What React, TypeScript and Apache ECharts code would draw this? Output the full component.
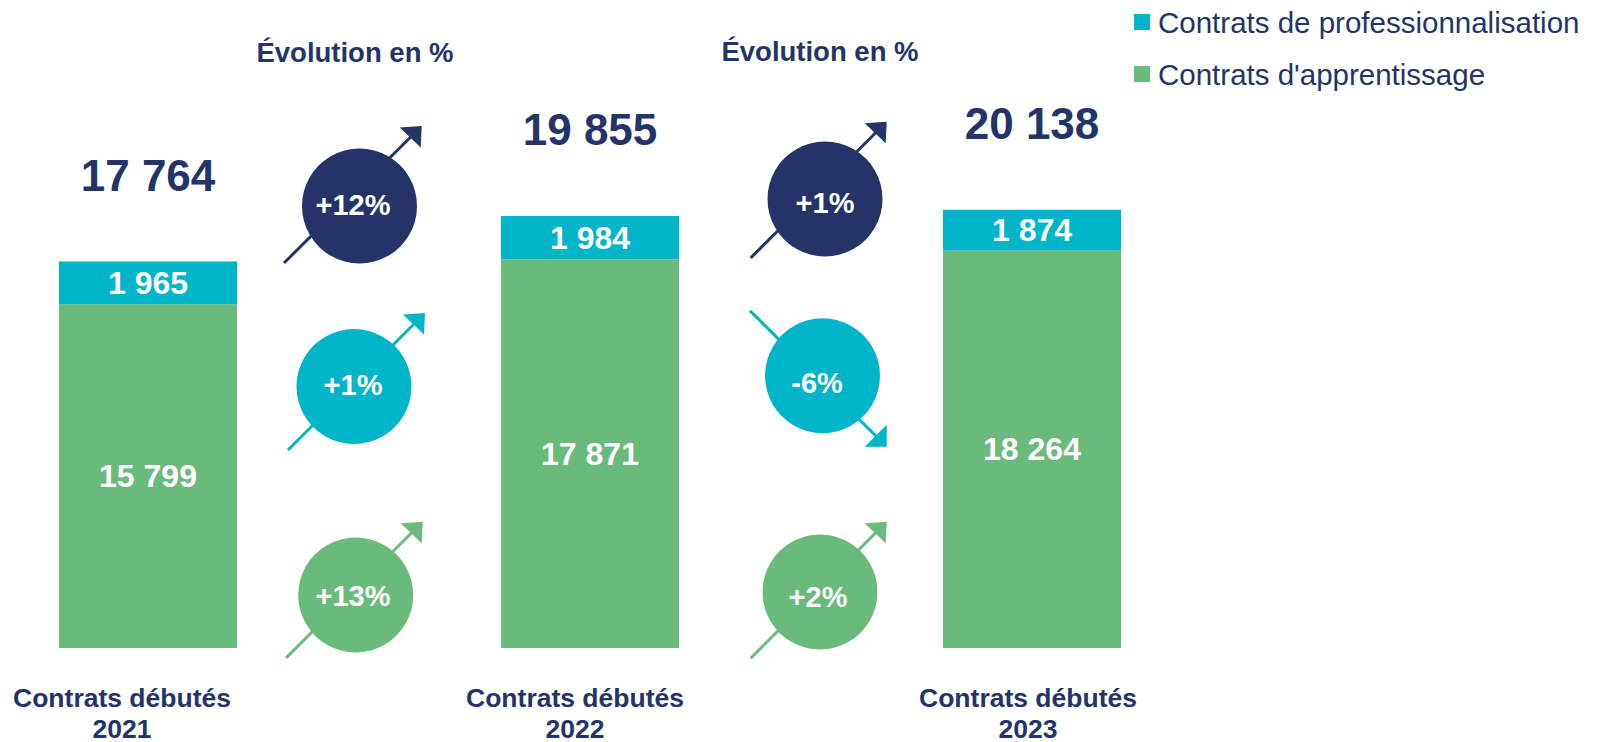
import React, { useEffect, useRef } from "react";
import * as echarts from "echarts";

const years = ["2021", "2022", "2023"];
const apprentissage = [15799, 17871, 18264];
const professionnalisation = [1965, 1984, 1874];
const totals = [17764, 19855, 20138];
const evoTotal = ["+12%", "+1%"];
const evoPro = ["+1%", "-6%"];
const evoAppr = ["+13%", "+2%"];

const NAVY = "#243469";
const CYAN = "#00B5C9";
const GREEN = "#6ABB7B";
const FONT = "'Liberation Sans', Arial, sans-serif";

const fmt = (v: number) => String(v).replace(/\B(?=(\d{3})+(?!\d))/g, " ");

// padded category slots: bars at 0, 2, 4
const slots: string[] = [];
years.forEach((y, i) => {
  slots.push(y);
  if (i < years.length - 1) slots.push("");
});
const pad = (arr: number[]) => {
  const out: (number | null)[] = [];
  arr.forEach((v, i) => {
    out.push(v);
    if (i < arr.length - 1) out.push(null);
  });
  return out;
};

// decoration layout (pixel positions of evolution badges)
const badgeLayout = [
  { color: NAVY, tail: [284, 263], tip: [421.7, 126], c: [359.5, 206], t: [353, 205], down: false },
  { color: CYAN, tail: [288, 450], tip: [425, 313], c: [354, 386.5], t: [353, 385], down: false },
  { color: GREEN, tail: [286, 658], tip: [422.7, 521.7], c: [355.7, 595], t: [353, 596], down: false },
  { color: NAVY, tail: [750.7, 258], tip: [886.7, 121.7], c: [825, 199], t: [825, 203], down: false },
  { color: CYAN, tail: [750, 310.7], tip: [886.7, 446.7], c: [822.5, 375.7], t: [817, 383], down: true },
  { color: GREEN, tail: [750.7, 658.3], tip: [886.7, 521.7], c: [820, 592], t: [818, 597], down: false },
];
const badgeTexts = [evoTotal[0], evoPro[0], evoAppr[0], evoTotal[1], evoPro[1], evoAppr[1]];

function buildBadges() {
  return badgeLayout.map((b, i) => {
    const [tx, ty] = b.tip;
    const head = b.down
      ? [[tx, ty], [tx - 22, ty], [tx, ty - 22]]
      : [[tx, ty], [tx - 22, ty + 1.5], [tx - 1, ty + 21.5]];
    const lineEnd = b.down ? [tx - 10, ty - 10] : [tx - 10, ty + 10];
    return {
      type: "group",
      children: [
        {
          type: "line",
          shape: { x1: b.tail[0], y1: b.tail[1], x2: lineEnd[0], y2: lineEnd[1] },
          style: { stroke: b.color, lineWidth: 3 },
        },
        { type: "polygon", shape: { points: head }, style: { fill: b.color } },
        { type: "circle", shape: { cx: b.c[0], cy: b.c[1], r: 57.5 }, style: { fill: b.color } },
        {
          type: "text",
          x: b.t[0],
          y: b.t[1],
          style: {
            text: badgeTexts[i],
            fill: "#ffffff",
            fontSize: 29,
            fontWeight: "bold",
            fontFamily: FONT,
            align: "center",
            verticalAlign: "middle",
          },
        },
      ],
    };
  });
}

const labelPad = [52, 0, 30, 0, 8];

export default function App() {
  const ref = useRef<HTMLDivElement>(null);
  useEffect(() => {
    if (!ref.current) return;
    const chart = echarts.init(ref.current, undefined, { renderer: "svg" });
    const rich: any = {};
    labelPad.forEach((p, i) => {
      rich["c" + i] = {
        fontSize: 26.5,
        fontWeight: "bold",
        color: NAVY,
        fontFamily: FONT,
        lineHeight: 31,
        padding: [0, p, 0, 0],
      };
    });
    const PRO = "Contrats de professionnalisation";
    const APP = "Contrats d'apprentissage";
    chart.setOption({
      animation: false,
      textStyle: { fontFamily: FONT },
      grid: { left: 37.5, right: 456.5, top: 104, bottom: 92 },
      legend: {
        data: [PRO, APP],
        orient: "vertical",
        left: 1134,
        top: 7,
        padding: 0,
        icon: "rect",
        itemWidth: 16,
        itemHeight: 16,
        itemGap: 22,
        textStyle: {
          fontSize: 29.5,
          color: NAVY,
          fontFamily: FONT,
          lineHeight: 30,
          padding: [0, 0, 0, 3],
        },
      },
      xAxis: {
        type: "category",
        data: slots,
        axisLine: { show: false },
        axisTick: { show: false },
        axisLabel: {
          interval: 0,
          margin: 34,
          formatter: (v: string, i: number) =>
            v ? `{c${i}|Contrats débutés}\n{c${i}|${v}}` : "",
          rich,
        },
      },
      yAxis: { type: "value", min: 0, max: 25000, show: false, splitLine: { show: false } },
      series: [
        {
          name: APP,
          type: "bar",
          stack: "a",
          barWidth: 178,
          data: pad(apprentissage),
          itemStyle: { color: GREEN },
          label: {
            show: true,
            position: "inside",
            color: "#fff",
            fontSize: 32,
            fontWeight: "bold",
            fontFamily: FONT,
            formatter: (p: any) => fmt(p.value),
          },
        },
        {
          name: PRO,
          type: "bar",
          stack: "a",
          barWidth: 178,
          data: pad(professionnalisation),
          itemStyle: { color: CYAN },
          label: {
            show: true,
            position: "inside",
            color: "#fff",
            fontSize: 32,
            fontWeight: "bold",
            fontFamily: FONT,
            formatter: (p: any) => fmt(p.value),
          },
        },
        {
          name: "Total",
          type: "bar",
          stack: "a",
          barWidth: 178,
          data: pad(totals.map(() => 0)),
          itemStyle: { color: "transparent" },
          label: {
            show: true,
            position: "top",
            distance: 64,
            color: NAVY,
            fontSize: 44,
            fontWeight: "bold",
            fontFamily: FONT,
            formatter: (p: any) => fmt(totals[p.dataIndex / 2]),
          },
        },
      ],
      graphic: [
        {
          type: "text",
          x: 355,
          y: 52,
          style: {
            text: "Évolution en %",
            fill: NAVY,
            fontSize: 27.5,
            fontWeight: "bold",
            fontFamily: FONT,
            align: "center",
            verticalAlign: "middle",
          },
        },
        {
          type: "text",
          x: 820,
          y: 51,
          style: {
            text: "Évolution en %",
            fill: NAVY,
            fontSize: 27.5,
            fontWeight: "bold",
            fontFamily: FONT,
            align: "center",
            verticalAlign: "middle",
          },
        },
        ...buildBadges(),
      ],
    });
    return () => chart.dispose();
  }, []);
  return (
    <div
      ref={ref}
      style={{ position: "absolute", left: 0, top: 0, width: 1599, height: 742 }}
    />
  );
}
